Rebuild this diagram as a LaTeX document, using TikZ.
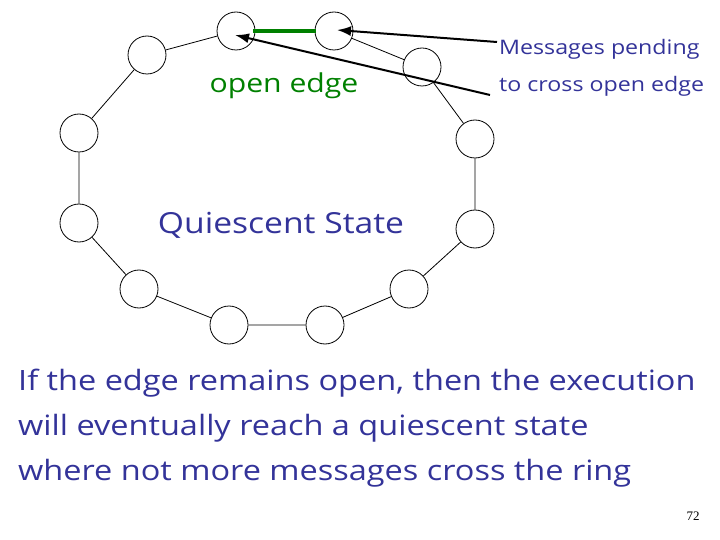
\documentclass[tikz,border=0pt]{standalone}
\usepackage{fontspec}
\usetikzlibrary{arrows.meta}
\setmainfont[FakeStretch=1.16]{Open Sans}
\newfontfamily\numfont{Liberation Serif}
\definecolor{txtblue}{RGB}{51,51,153}
\definecolor{edgegreen}{RGB}{0,128,0}
\begin{document}
\begin{tikzpicture}[x=1pt,y=-1pt,
  proc/.style={circle,draw,line width=0.8pt,minimum size=38pt,inner sep=0pt},
  ring/.style={draw,line width=0.8pt},
  msg/.style={draw,line width=2pt,-{Latex[length=14pt,width=10pt]}},
  bluetxt/.style={text=txtblue,inner sep=0pt}]
\useasboundingbox (0,0) rectangle (720,540);
\node[proc] (a) at (147,55) {};
\node[proc] (b) at (236,31) {};
\node[proc] (c) at (334,31) {};
\node[proc] (d) at (422,67) {};
\node[proc] (e) at (475,139) {};
\node[proc] (f) at (475,229) {};
\node[proc] (g) at (409,289) {};
\node[proc] (h) at (325,325) {};
\node[proc] (i) at (229,325) {};
\node[proc] (j) at (139,289) {};
\node[proc] (k) at (79,223) {};
\node[proc] (l) at (79,133) {};
\draw[ring] (a) -- (b);
\draw[ring] (c) -- (d) -- (e) -- (f) -- (g) -- (h) -- (i) -- (j) -- (k) -- (l) -- (a);
\path (b.east) ++(-2,0) coordinate (bx) (c.west) ++(1,0) coordinate (cx);
\draw[edgegreen,line width=3.5pt] (bx) -- (cx);
\coordinate (m1) at (497,42);
\coordinate (m2) at (490,95);
\coordinate (t1) at (337,30);
\coordinate (t2) at (235,35);
\draw[msg] (m1) -- (t1);
\draw[msg] (m2) -- (t2);
\node[text=edgegreen,font=\fontsize{26}{30}\selectfont] (oe) at (284,86) {open edge};
\node[bluetxt,anchor=west,align=left,font=\fontsize{20}{37}\selectfont] (mp) at (499,68) {Messages pending\\to cross open edge};
\node[bluetxt,font=\fontsize{29}{32}\selectfont] (qs) at (281,225) {Quiescent State};
\node[bluetxt,anchor=north west,align=left,font=\fontsize{28}{45}\selectfont] (body) at (18,369) {If the edge remains open, then the execution\\will eventually reach a quiescent state\\where not more messages cross the ring};
\node[inner sep=0pt,font=\numfont\fontsize{13}{14}\selectfont] (pg) at (693,516) {72};
\end{tikzpicture}
\end{document}
